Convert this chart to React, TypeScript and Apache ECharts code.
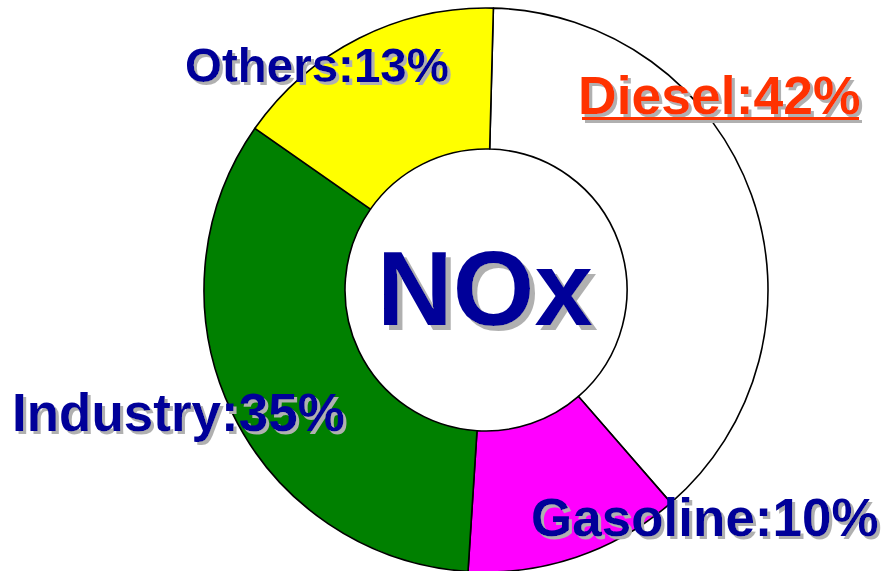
import React, { useEffect, useRef } from "react";
import * as echarts from "echarts";

// Sources of NOx (labelled percentages as printed on the chart)
const categories = ["Diesel", "Gasoline", "Industry", "Others"];
const labelPercents = [42, 10, 35, 13];
// Wedge sizes as drawn in the picture (degrees of arc converted to %)
const sliceShares = [38.2, 12.4, 33.7, 15.7];
const sliceColors = ["#FFFFFF", "#FF00FF", "#008000", "#FFFF00"];
const centerTitle = "NOx";

const FONT = '"Liberation Sans", Arial, Helvetica, sans-serif';

export default function App() {
  const ref = useRef<HTMLDivElement>(null);
  useEffect(() => {
    if (!ref.current) return;
    const chart = echarts.init(ref.current, undefined, { renderer: "svg" });
    const label = (i: number) => `${categories[i]}:${labelPercents[i]}%`;
    const textEl = (
      txt: string,
      x: number,
      y: number,
      size: number,
      fill: string,
      shadow: number
    ) => ({
      type: "text",
      x,
      y,
      z: 10,
      style: {
        text: txt,
        fill,
        font: `bold ${size}px ${FONT}`,
        align: "left",
        verticalAlign: "middle",
        textShadowColor: "#b0b0b0",
        textShadowBlur: 0.6,
        textShadowOffsetX: shadow,
        textShadowOffsetY: shadow,
      },
    });
    const labelPos: [number, number, number, string][] = [
      [578, 95, 53.5, "#FF3300"],
      [531, 517, 53, "#000099"],
      [12, 412, 53, "#000099"],
      [185, 65, 47.5, "#000099"],
    ];
    chart.setOption({
      animation: false,
      backgroundColor: "#ffffff",
      series: [
        {
          type: "pie",
          silent: true,
          center: [486, 290],
          radius: [141, 282],
          startAngle: 88.5,
          clockwise: true,
          label: { show: false },
          labelLine: { show: false },
          itemStyle: { borderColor: "#000000", borderWidth: 1.6 },
          data: categories.map((c, i) => ({
            name: c,
            value: sliceShares[i],
            itemStyle: { color: sliceColors[i] },
          })),
        },
      ],
      graphic: [
        ...categories.map((c, i) =>
          textEl(label(i), labelPos[i][0], labelPos[i][1], labelPos[i][2], labelPos[i][3], 3)
        ),
        {
          type: "rect",
          z: 9,
          shape: { x: 585, y: 120, width: 277, height: 3 },
          style: { fill: "#b0b0b0" },
        },
        {
          type: "rect",
          z: 10,
          shape: { x: 582, y: 117, width: 277, height: 3 },
          style: { fill: "#FF3300" },
        },
        textEl(centerTitle, 377, 288, 105, "#000099", 5),
      ],
    });
    return () => chart.dispose();
  }, []);
  return (
    <div
      ref={ref}
      style={{ position: "fixed", left: 0, top: 0, width: 881, height: 571 }}
    />
  );
}
